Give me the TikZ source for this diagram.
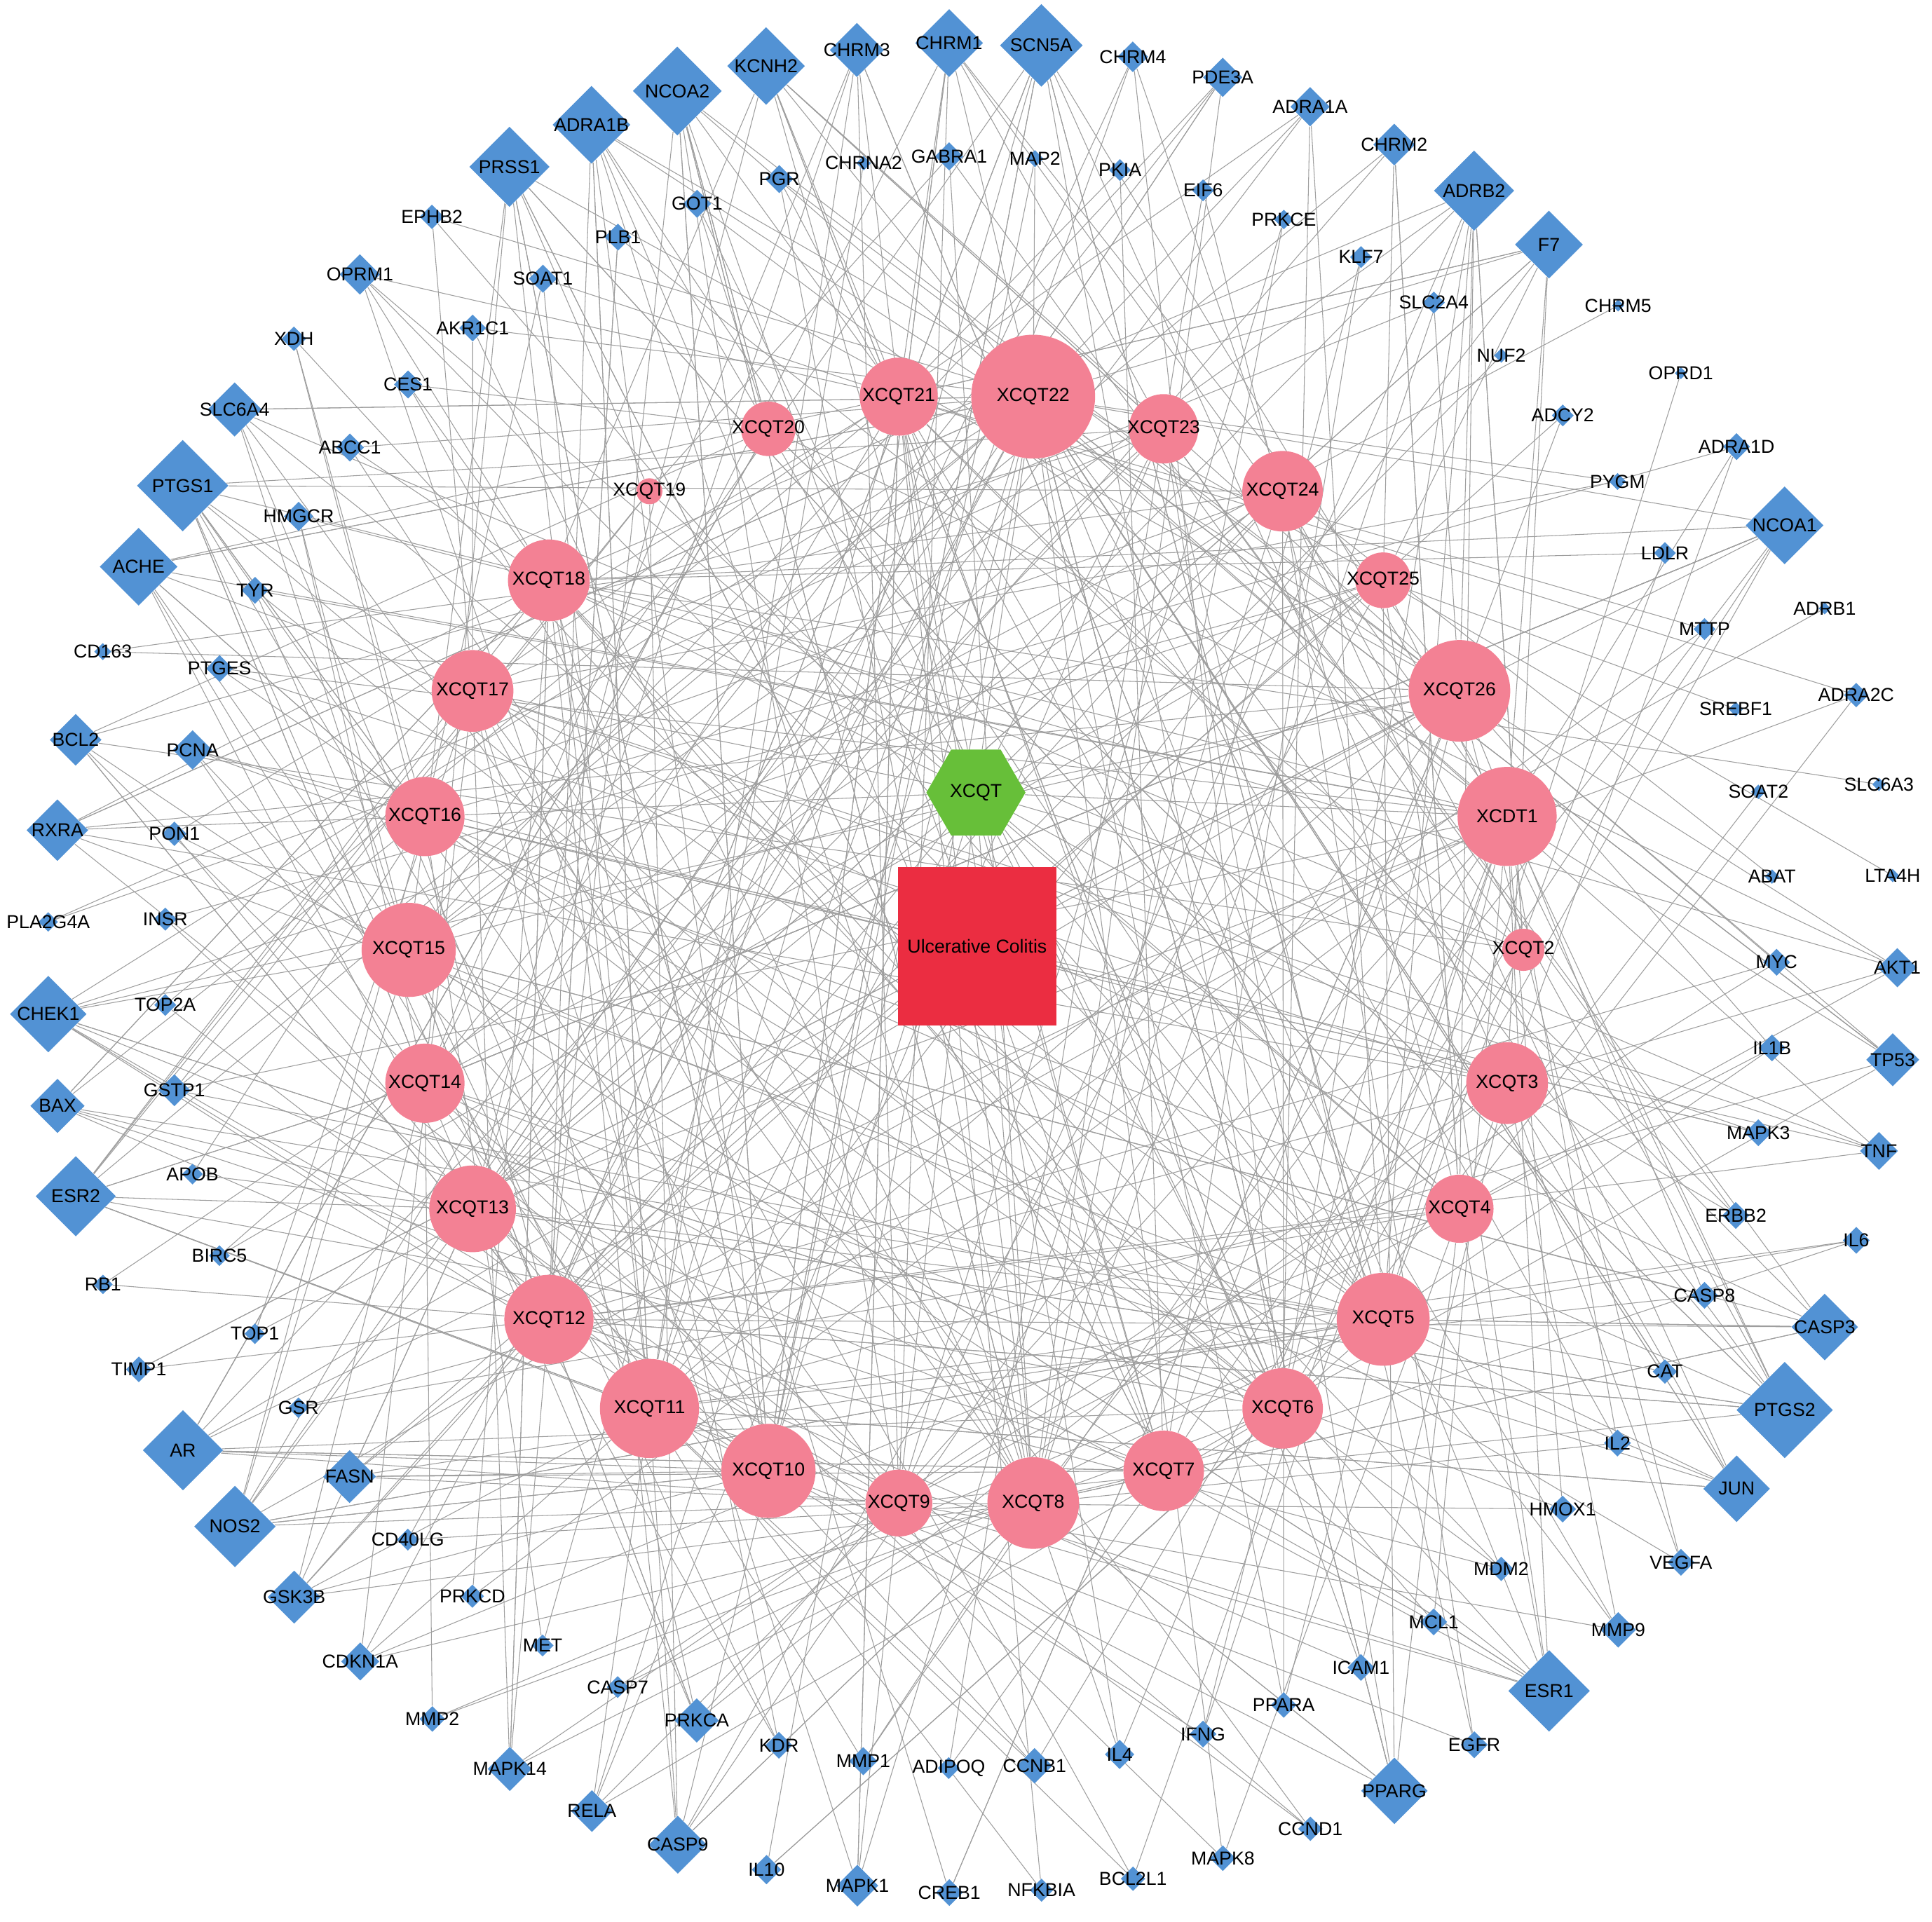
\documentclass[tikz,border=0pt]{standalone}
\usepackage{fontspec}
\setmainfont{Liberation Sans}
\usetikzlibrary{shapes.geometric}
\pgfdeclarelayer{bg}
\pgfdeclarelayer{edges}
\pgfsetlayers{bg,edges,main}
\definecolor{cpink}{RGB}{243,129,148}
\definecolor{cblue}{RGB}{82,146,212}
\definecolor{cgreen}{RGB}{103,191,57}
\definecolor{cred}{RGB}{235,45,65}
\definecolor{cedge}{RGB}{158,158,158}
\def\U{0.017667cm}
\tikzset{
  lbl/.style={font=\fontsize{7.6}{9}\selectfont, text=black},
  every label/.style={lbl},
  tgtnode/.style={diamond, fill=cblue, draw=none, inner sep=0pt, minimum size={#1*\U}},
  cpdnode/.style={circle, fill=cpink, draw=none, inner sep=0pt, minimum size={#1*\U}},
  link/.style={draw=cedge, line width=0.3pt},
}
% compounds: name/diameter/weight (clockwise from top)
\def\cpdlist{XCQT22/100/14, XCQT23/56/7, XCQT24/65/8, XCQT25/45/5, XCQT26/82/11,
  XCDT1/80/11, XCQT2/34/3, XCQT3/66/8, XCQT4/55/7, XCQT5/75/10, XCQT6/65/8,
  XCQT7/65/8, XCQT8/74/10, XCQT9/54/6, XCQT10/76/10, XCQT11/80/11, XCQT12/72/9,
  XCQT13/70/9, XCQT14/64/8, XCQT15/76/10, XCQT16/64/8, XCQT17/66/8, XCQT18/66/8,
  XCQT19/21/1, XCQT20/44/5, XCQT21/63/8}
% outer ring targets: name/size
\def\outerlist{CHRM1/55, SCN5A/67, CHRM4/25, PDE3A/32, ADRA1A/32, CHRM2/34,
  ADRB2/65, F7/55, CHRM5/10, OPRD1/10, ADRA1D/22, NCOA1/63, ADRB1/10, ADRA2C/20,
  SLC6A3/11, LTA4H/11, AKT1/32, TP53/43, TNF/31, IL6/22, CASP3/54, PTGS2/78,
  JUN/54, VEGFA/22, MMP9/29, ESR1/66, EGFR/22, PPARG/54, CCND1/20, MAPK8/21,
  BCL2L1/20, NFKBIA/19, CREB1/22, MAPK1/34, IL10/24, CASP9/47, RELA/34,
  MAPK14/36, MMP2/21, CDKN1A/31, GSK3B/43, NOS2/66, AR/65, TIMP1/21, RB1/16,
  ESR2/65, BAX/44, CHEK1/62, PLA2G4A/16, RXRA/50, BCL2/42, CD163/14, ACHE/63,
  PTGS1/74, SLC6A4/44, XDH/20, OPRM1/33, EPHB2/20, PRSS1/65, ADRA1B/63,
  NCOA2/72, KCNH2/63, CHRM3/44}
% inner ring targets: name/size
\def\innerlist{EIF6/18, PRKCE/16, KLF7/18, SLC2A4/18, NUF2/12, ADCY2/18,
  PYGM/14, LDLR/18, MTTP/18, SREBF1/12, SOAT2/12, ABAT/12, MYC/22, IL1B/22,
  MAPK3/22, ERBB2/22, CASP8/22, CAT/20, IL2/22, HMOX1/22, MDM2/20, MCL1/22,
  ICAM1/22, PPARA/21, IFNG/22, IL4/24, CCNB1/29, ADIPOQ/18, MMP1/23, KDR/22,
  PRKCA/36, CASP7/18, MET/18, PRKCD/19, CD40LG/18, FASN/43, GSR/17, TOP1/17,
  BIRC5/17, APOB/17, GSTP1/26, TOP2A/18, INSR/19, PON1/20, PCNA/32, PTGES/22,
  TYR/22, HMGCR/24, ABCC1/23, CES1/23, AKR1C1/22, SOAT1/23, PLB1/22, GOT1/23,
  PGR/23, CHRNA2/12, GABRA1/23, MAP2/14, PKIA/18}
% weighted list of compound names
\gdef\wlist{"XCQT22"}
\foreach \nm/\s/\w in \cpdlist {
  \foreach \j in {1,...,\w} { \xdef\wlist{\wlist,"\nm"} }
}
\newcommand\linkup[2]{%
  \pgfmathtruncatemacro\nlk{max(1,round((#2-11)/5.5)+1)}%
  \foreach \m in {1,...,\nlk} {%
    \pgfmathrandominteger{\rndi}{0}{211}%
    \edef\tmpparse{\noexpand\pgfmathparse{{\wlist}[\rndi]}}\tmpparse
    \let\cn\pgfmathresult
    \draw[link] (#1) -- (\cn);
  }%
}
\begin{document}
\begin{tikzpicture}[x=\U, y=-\U]
\begin{pgfonlayer}{bg}
  \fill[white] (0,0) rectangle (1560,1552);
\end{pgfonlayer}
\useasboundingbox (0,0) rectangle (1560,1552);

% centre nodes
\node[regular polygon, regular polygon sides=6, fill=cgreen, inner sep=0pt,
      minimum size={80*\U}, lbl] (XCQT) at (788,640) {XCQT};
\node[rectangle, fill=cred, inner sep=0pt, minimum size={128*\U}, lbl]
      (UC) at (789,764) {Ulcerative Colitis};

% compounds
\foreach [count=\k from 0] \nm/\s/\w in \cpdlist {
  \pgfmathsetmacro\ang{6.92+13.846*\k}
  \node[cpdnode=\s, label=center:\nm] (\nm) at ({780+450*sin(\ang)},{767-450*cos(\ang)}) {};
}
% outer ring
\foreach [count=\i from 0] \nm/\s in \outerlist {
  \pgfmathsetmacro\ang{-1.43+5.714*\i}
  \node[tgtnode=\s, label=center:\nm] (\nm) at ({785+747*sin(\ang)},{781.5-747*cos(\ang)}) {};
}
% inner ring
\foreach [count=\i from 0] \nm/\s in \innerlist {
  \pgfmathsetmacro\ang{16.78+6.102*\i}
  \node[tgtnode=\s, label=center:\nm] (\nm) at ({783.5+651*sin(\ang)},{777-651*cos(\ang)}) {};
}

% connectors
\pgfmathsetseed{20240}
\begin{pgfonlayer}{edges}
  \foreach \nm/\s/\w in \cpdlist { \draw[link] (XCQT) -- (\nm); }
  \foreach \nm/\s in \outerlist { \linkup{\nm}{\s} }
  \foreach \nm/\s in \innerlist { \linkup{\nm}{\s} }
\end{pgfonlayer}
\end{tikzpicture}
\end{document}
